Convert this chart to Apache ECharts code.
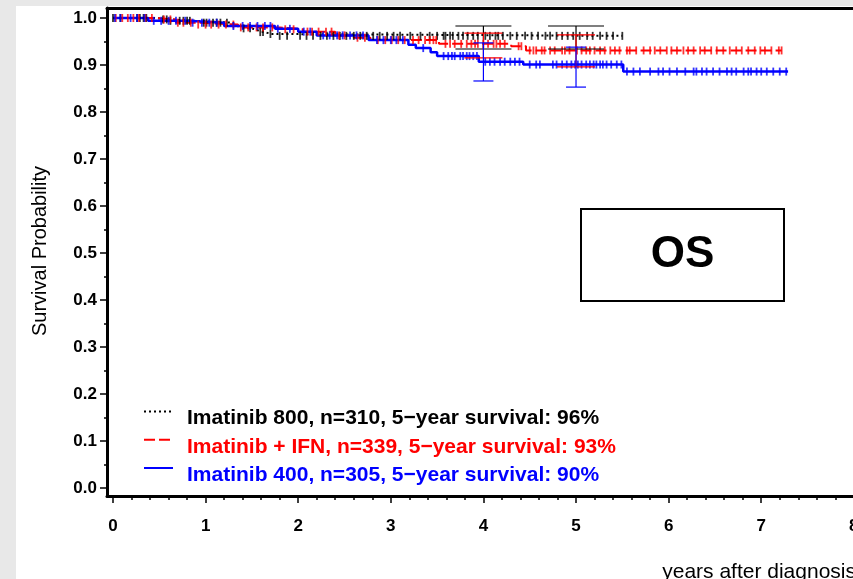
<!DOCTYPE html>
<html><head><meta charset="utf-8">
<script src="https://cdn.jsdelivr.net/npm/echarts@6/dist/echarts.min.js"></script>
<style>html,body{margin:0;padding:0;background:#ffffff;} #c{width:853px;height:579px;}</style>
</head><body><div id="c"></div><script>
// ---------- data ----------
const seriesNames = [
  'Imatinib 800, n=310, 5\u2212year survival: 96%',
  'Imatinib + IFN, n=339, 5\u2212year survival: 93%',
  'Imatinib 400, n=305, 5\u2212year survival: 90%'
];
const seriesColors = ['#000000', '#ff0000', '#0000ff'];
const xTickValues = [0, 1, 2, 3, 4, 5, 6, 7, 8];
const xMinorTickValues = [0.2, 0.4, 0.6, 0.8, 1.2, 1.4, 1.6, 1.8, 2.2, 2.4, 2.6, 2.8, 3.2, 3.4, 3.6, 3.8, 4.2, 4.4, 4.6, 4.8, 5.2, 5.4, 5.6, 5.8, 6.2, 6.4, 6.6, 6.8, 7.2, 7.4, 7.6, 7.8, 8.2];
const yTickValues = [0, 0.1, 0.2, 0.3, 0.4, 0.5, 0.6, 0.7, 0.8, 0.9, 1.0];
const yMinorTickValues = [0.05, 0.15, 0.25, 0.35, 0.45, 0.55, 0.65, 0.75, 0.85, 0.95];

const im800Times = [0, 0.45, 0.60, 0.90, 1.30, 1.38, 1.50, 1.56, 1.63, 1.72, 5.50];
const im800Surv  = [1.0, 0.997, 0.994, 0.990, 0.984, 0.978, 0.974, 0.970, 0.966, 0.962, 0.962];

const ifnTimes = [0, 0.45, 0.68, 0.90, 1.35, 1.80, 2.05, 2.40, 2.60, 2.78, 3.52, 4.30, 4.46, 7.22];
const ifnSurv  = [1.0, 0.997, 0.990, 0.986, 0.980, 0.976, 0.971, 0.963, 0.958, 0.953, 0.945, 0.940, 0.931, 0.931];

const im400Times = [0, 0.38, 0.80, 1.20, 1.75, 2.00, 2.20, 2.76, 3.19, 3.27, 3.43, 3.50, 3.95, 4.43, 5.51, 7.29];
const im400Surv  = [1.0, 0.994, 0.990, 0.983, 0.977, 0.971, 0.963, 0.953, 0.943, 0.936, 0.927, 0.919, 0.907, 0.901, 0.886, 0.886];

const im800Censor = [0.00, 0.08, 0.26, 0.29, 0.33, 0.36, 0.54, 0.58, 0.62, 0.72, 0.76, 0.80, 0.83, 0.98, 1.01, 1.08, 1.12, 1.16, 1.23, 1.41, 1.48, 1.59, 1.62, 1.70, 1.80, 1.88, 2.02, 2.09, 2.16, 2.24, 2.31, 2.38, 2.45, 2.52, 2.60, 2.67, 2.74, 2.81, 2.88, 2.96, 3.03, 3.10, 3.21, 3.32, 3.42, 3.50, 3.57, 3.59, 3.64, 3.67, 3.73, 3.78, 3.83, 3.89, 3.94, 4.02, 4.07, 4.13, 4.16, 4.21, 4.29, 4.36, 4.45, 4.52, 4.59, 4.67, 4.72, 4.79, 4.85, 4.91, 4.97, 5.04, 5.12, 5.18, 5.26, 5.33, 5.40, 5.50];
const ifnCensor = [0.03, 0.10, 0.16, 0.22, 0.28, 0.35, 0.42, 0.55, 0.62, 0.70, 0.76, 0.84, 0.92, 1.00, 1.06, 1.14, 1.22, 1.30, 1.38, 1.46, 1.55, 1.62, 1.72, 1.86, 1.95, 2.10, 2.15, 2.22, 2.30, 2.36, 2.44, 2.50, 2.64, 2.72, 2.86, 2.94, 3.01, 3.08, 3.15, 3.24, 3.30, 3.37, 3.42, 3.46, 3.49, 3.59, 3.64, 3.69, 3.76, 3.82, 3.87, 3.91, 3.94, 4.00, 4.05, 4.11, 4.14, 4.18, 4.23, 4.38, 4.41, 4.50, 4.54, 4.57, 4.63, 4.66, 4.72, 4.77, 4.85, 4.88, 4.93, 5.01, 5.06, 5.11, 5.15, 5.20, 5.26, 5.31, 5.37, 5.42, 5.47, 5.55, 5.58, 5.65, 5.73, 5.80, 5.85, 5.91, 5.98, 6.03, 6.09, 6.16, 6.21, 6.27, 6.34, 6.39, 6.46, 6.52, 6.59, 6.66, 6.73, 6.79, 6.86, 6.93, 6.99, 7.04, 7.11, 7.19, 7.22];
const im400Censor = [0.02, 0.08, 0.19, 0.26, 0.34, 0.44, 0.52, 0.60, 0.68, 0.78, 0.86, 0.96, 1.04, 1.12, 1.30, 1.40, 1.48, 1.56, 1.64, 1.70, 1.78, 1.91, 2.06, 2.13, 2.27, 2.34, 2.42, 2.48, 2.56, 2.63, 2.70, 2.85, 2.92, 3.00, 3.06, 3.13, 3.35, 3.57, 3.62, 3.66, 3.69, 3.75, 3.78, 3.82, 3.85, 3.89, 3.93, 4.02, 4.07, 4.12, 4.18, 4.23, 4.29, 4.34, 4.39, 4.50, 4.57, 4.61, 4.75, 4.79, 4.85, 4.90, 4.95, 4.99, 5.02, 5.06, 5.11, 5.15, 5.19, 5.22, 5.26, 5.29, 5.33, 5.38, 5.44, 5.49, 5.55, 5.62, 5.69, 5.80, 5.89, 5.94, 6.01, 6.09, 6.18, 6.27, 6.30, 6.36, 6.41, 6.48, 6.55, 6.63, 6.68, 6.73, 6.81, 6.86, 6.89, 6.95, 7.00, 7.06, 7.13, 7.20, 7.27];

const errYears = [4, 5];
const im800Lo = [0.934, 0.934], im800Hi = [0.983, 0.983];
const ifnLo = [0.915, 0.896],  ifnHi = [0.968, 0.964];
const im400Lo = [0.866, 0.853], im400Hi = [0.947, 0.938];

const boxLabel = 'OS';
const xTitle = 'years after diagnosis';
const yTitle = 'Survival Probability';

// ---------- helpers ----------
const FONT = '"Liberation Sans", Arial, Helvetica, sans-serif';
function pairs(ts, vs) { return ts.map((t, i) => [t, vs[i]]); }
function survAt(ts, vs, t) { let v = vs[0]; for (let i = 0; i < ts.length; i++) { if (ts[i] <= t) v = vs[i]; } return v; }
function censorPts(c, ts, vs) { return c.map(t => [t, survAt(ts, vs, t)]); }
function errData(lo, hi) { return errYears.map((x, i) => [x, lo[i], hi[i]]); }

// axis extents: frame from x=107..873 px, y=8..496 px  (0 yr at 113 px, 92.6 px/yr; 0 at 488 px, 470 px per unit)
const X_MIN = -0.0648, X_MAX = 8.207;
const Y_MIN = -0.01702, Y_MAX = 1.02128;

const groups = [
  { times: im800Times, surv: im800Surv, censor: im800Censor, lo: im800Lo, hi: im800Hi, line: { type: [2, 3], width: 2 }, cap: 28 },
  { times: ifnTimes, surv: ifnSurv, censor: ifnCensor, lo: ifnLo, hi: ifnHi, line: { type: [11, 4], width: 2 }, cap: 19 },
  { times: im400Times, surv: im400Surv, censor: im400Censor, lo: im400Lo, hi: im400Hi, line: { type: 'solid', width: 2.5 }, cap: 10 }
];

const series = [];
groups.forEach((g, i) => {
  series.push({
    name: seriesNames[i], type: 'line', xAxisIndex: 0, yAxisIndex: 0,
    step: 'end', symbol: 'none', clip: false, z: 3,
    data: pairs(g.times, g.surv),
    lineStyle: { color: seriesColors[i], width: g.line.width, type: g.line.type },
    itemStyle: { color: seriesColors[i] }
  });
  series.push({
    name: seriesNames[i] + ' censored', type: 'scatter', xAxisIndex: 0, yAxisIndex: 0,
    symbol: 'rect', symbolSize: [1.8, 8], clip: false, z: 4, silent: true,
    data: censorPts(g.censor, g.times, g.surv),
    itemStyle: { color: seriesColors[i] }
  });
  series.push({
    name: seriesNames[i] + ' CI', type: 'custom', xAxisIndex: 0, yAxisIndex: 0,
    clip: false, z: 5, silent: true,
    data: errData(g.lo, g.hi),
    encode: { x: 0, y: [1, 2] },
    renderItem: (params, api) => {
      const x = api.value(0);
      const pLo = api.coord([x, api.value(1)]);
      const pHi = api.coord([x, api.value(2)]);
      const st = { stroke: seriesColors[i], lineWidth: 1.2 };
      return { type: 'group', children: [
        { type: 'line', shape: { x1: pLo[0], y1: pLo[1], x2: pHi[0], y2: pHi[1] }, style: st },
        { type: 'line', shape: { x1: pLo[0] - g.cap, y1: pLo[1], x2: pLo[0] + g.cap, y2: pLo[1] }, style: st },
        { type: 'line', shape: { x1: pHi[0] - g.cap, y1: pHi[1], x2: pHi[0] + g.cap, y2: pHi[1] }, style: st }
      ] };
    }
  });
});

const tickLine = { color: '#000', width: 1.5 };
const frameLine = { show: true, onZero: false, lineStyle: { color: '#000', width: 3 } };
const hiddenLine = { show: false, onZero: false };
const labelStyle = { fontSize: 17, fontWeight: 'bold', color: '#000', fontFamily: FONT };
const option = {
  backgroundColor: '#ffffff',
  animation: false,
  textStyle: { fontFamily: FONT },
  grid: [
    { left: 107, top: 8, right: -20, bottom: 83, outerBoundsMode: 'none', containLabel: false },
    { left: 107, top: 8, right: -20, bottom: 83, outerBoundsMode: 'none', containLabel: false }
  ],
  xAxis: [
    { type: 'value', gridIndex: 0, min: X_MIN, max: X_MAX, position: 'bottom',
      axisLine: frameLine,
      axisTick: { show: true, inside: false, length: 7, customValues: xTickValues, lineStyle: tickLine },
      axisLabel: { ...labelStyle, margin: 22, customValues: xTickValues, formatter: v => String(Math.round(v)) },
      splitLine: { show: false } },
    { type: 'value', gridIndex: 0, min: X_MIN, max: X_MAX, position: 'top',
      axisLine: frameLine, axisTick: { show: false }, axisLabel: { show: false }, splitLine: { show: false } },
    { type: 'value', gridIndex: 1, min: X_MIN, max: X_MAX, position: 'bottom',
      axisLine: hiddenLine,
      axisTick: { show: true, inside: false, length: 4, customValues: xMinorTickValues, lineStyle: tickLine },
      axisLabel: { show: false }, splitLine: { show: false } }
  ],
  yAxis: [
    { type: 'value', gridIndex: 0, min: Y_MIN, max: Y_MAX, position: 'left',
      axisLine: frameLine,
      axisTick: { show: true, inside: false, length: 7, customValues: yTickValues, lineStyle: tickLine },
      axisLabel: { ...labelStyle, margin: 10, customValues: yTickValues, formatter: v => v.toFixed(1) },
      splitLine: { show: false } },
    { type: 'value', gridIndex: 1, min: Y_MIN, max: Y_MAX, position: 'left',
      axisLine: hiddenLine,
      axisTick: { show: true, inside: false, length: 3, customValues: yMinorTickValues, lineStyle: tickLine },
      axisLabel: { show: false }, splitLine: { show: false } }
  ],
  legend: [
    { // line-style samples only
      orient: 'vertical', left: 138, top: 401, itemWidth: 29, itemHeight: 14, itemGap: 17,
      data: seriesNames.slice(), formatter: () => '',
      itemStyle: { opacity: 0 },
      textStyle: { fontSize: 10, lineHeight: 14 },
      selectedMode: false
    },
    { // coloured texts only
      orient: 'vertical', left: 138, top: 403, itemWidth: 29, itemHeight: 14, itemGap: 7.5,
      data: seriesNames.map((n, i) => ({ name: n, textStyle: { color: seriesColors[i] } })),
      icon: 'rect', itemStyle: { opacity: 0 }, lineStyle: { opacity: 0 },
      textStyle: { fontSize: 21, fontWeight: 'bold', fontFamily: FONT, lineHeight: 21, padding: [0, 0, 0, 10] },
      selectedMode: false
    }
  ],
  graphic: [
    { type: 'rect', shape: { x: 0, y: 0, width: 16, height: 579 }, style: { fill: '#e8e8e8' }, silent: true },
    { type: 'rect', shape: { x: 0, y: 0, width: 853, height: 6 }, style: { fill: '#e8e8e8' }, silent: true },
    { type: 'rect', shape: { x: 581, y: 209, width: 203, height: 92 }, style: { fill: '#fff', stroke: '#000', lineWidth: 2 } },
    { type: 'text', x: 682.5, y: 255, style: { text: boxLabel, font: 'bold 44px ' + FONT, fill: '#000', textAlign: 'center', textVerticalAlign: 'middle' } },
    { type: 'text', x: 40, y: 251, rotation: Math.PI / 2, style: { text: yTitle, font: '20px ' + FONT, fill: '#000', textAlign: 'center', textVerticalAlign: 'middle' } },
    { type: 'text', x: 856, y: 572, style: { text: xTitle, font: '21px ' + FONT, fill: '#000', textAlign: 'right', textVerticalAlign: 'middle' } }
  ],
  series: series
};

const chart = echarts.init(document.getElementById('c'), null, { renderer: 'canvas' });
chart.setOption(option);
</script></body></html>
